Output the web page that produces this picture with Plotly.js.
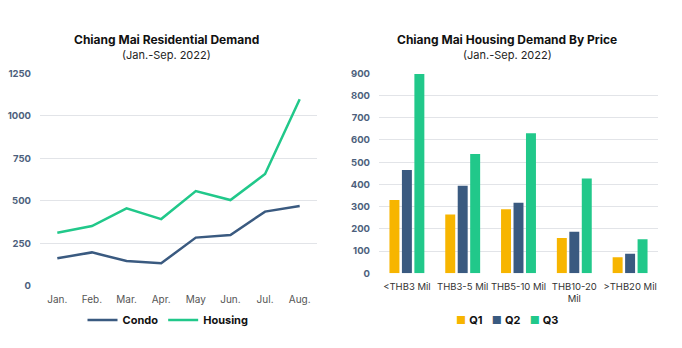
<!DOCTYPE html>
<html><head><meta charset="utf-8">
<script src="https://cdn.plot.ly/plotly-3.0.1.min.js"></script>
<style>html,body{margin:0;padding:0;background:#fff}#c{width:682px;height:348px}</style>
</head><body><div id="c"></div>
<script>
const months = ["Jan.","Feb.","Mar.","Apr.","May","Jun.","Jul.","Aug."];
const condo = [161,196,145,132,283,298,436,469];
const housing = [312,351,455,392,557,504,657,1097];
const priceCats = ["<THB3 Mil","THB3-5 Mil","THB5-10 Mil","THB10-20<br>Mil",">THB20 Mil"];
const q1 = [330,265,288,159,72];
const q2 = [465,394,318,187,88];
const q3 = [897,537,630,427,153];
const leftTicks = [0,250,500,750,1000,1250];
const rightTicks = [0,100,200,300,400,500,600,700,800,900];
const barNames = ["Q1","Q2","Q3"];

const FONT = "Inter, 'Open Sans', sans-serif";
const BLUE = "#3a5a80", GREEN = "#21c88a", YELLOW = "#f7b500";
const barColors = [YELLOW, BLUE, GREEN];
const tickFont = {family: FONT, size: 9.5, color: "#4d5f7c", weight: 700};

const data = [
  {x: months, y: condo, type: "scatter", mode: "lines", name: "Condo",
   line: {color: BLUE, width: 2.5}, xaxis: "x", yaxis: "y", legend: "legend"},
  {x: months, y: housing, type: "scatter", mode: "lines", name: "Housing",
   line: {color: GREEN, width: 2.5}, xaxis: "x", yaxis: "y", legend: "legend"}
];
[q1, q2, q3].forEach((vals, i) => data.push({
  x: priceCats, y: vals, type: "bar", name: barNames[i], marker: {color: barColors[i]},
  xaxis: "x2", yaxis: "y2", showlegend: false
}));

const legendText = barNames.map((n, i) =>
  `<span style="color:${barColors[i]};font-size:11px">■</span> <b>${n}</b>`).join("&nbsp;&nbsp;&nbsp;");

const layout = {
  width: 682, height: 348,
  margin: {l: 0, r: 0, t: 0, b: 0},
  paper_bgcolor: "#fff", plot_bgcolor: "#fff",
  font: {family: FONT, color: "#333"},
  barmode: "group", bargap: 0.33, bargroupgap: 0.2,
  xaxis: {domain: [40/682, 317/682], anchor: "y", range: [-0.5, 7.5], showgrid: false, zeroline: false,
          showline: false, ticks: "", tickangle: 0, tickfont: {family: FONT, size: 10, color: "#555"},
          ticklabelstandoff: 6},
  yaxis: {domain: [(348-285.7)/348, (348-73.3)/348], anchor: "x", range: [0, 1250], tickvals: leftTicks,
          showgrid: true, gridcolor: "#e2e4e8", gridwidth: 1, zeroline: false, showline: false,
          tickfont: tickFont, ticklabelstandoff: 8},
  xaxis2: {domain: [379/682, 658/682], anchor: "y2", showgrid: false, zeroline: false, showline: false, ticks: "",
           tickangle: 0, tickfont: {family: FONT, size: 9.5, color: "#333"}, ticklabelstandoff: 6},
  yaxis2: {domain: [(348-273.3)/348, (348-73.3)/348], anchor: "x2", range: [0, 900], tickvals: rightTicks,
           showgrid: true, gridcolor: "#e2e4e8", gridwidth: 1, zeroline: false, showline: false,
           tickfont: tickFont, ticklabelstandoff: 8},
  legend: {orientation: "h", x: 168/682, xanchor: "center", y: (348-320)/348, yanchor: "middle",
           font: {family: FONT, size: 11, color: "#111", weight: 700}},
  annotations: [
    {text: "<b>Chiang Mai Residential Demand</b>", x: 166/682, y: (348-39.5)/348, xref: "paper", yref: "paper",
     xanchor: "center", yanchor: "middle", showarrow: false, font: {family: FONT, size: 12, color: "#111"}},
    {text: "(Jan.-Sep. 2022)", x: 166/682, y: (348-54.5)/348, xref: "paper", yref: "paper",
     xanchor: "center", yanchor: "middle", showarrow: false, font: {family: FONT, size: 11, color: "#222"}},
    {text: "<b>Chiang Mai Housing Demand By Price</b>", x: 507/682, y: (348-39.5)/348, xref: "paper", yref: "paper",
     xanchor: "center", yanchor: "middle", showarrow: false, font: {family: FONT, size: 12, color: "#111"}},
    {text: "(Jan.-Sep. 2022)", x: 507/682, y: (348-54.5)/348, xref: "paper", yref: "paper",
     xanchor: "center", yanchor: "middle", showarrow: false, font: {family: FONT, size: 11, color: "#222"}},
    {text: legendText, x: 507/682, y: (348-320)/348, xref: "paper", yref: "paper",
     xanchor: "center", yanchor: "middle", showarrow: false, font: {family: FONT, size: 11, color: "#111"}}
  ]
};

Plotly.newPlot("c", data, layout, {displayModeBar: false, staticPlot: true});
</script></body></html>
